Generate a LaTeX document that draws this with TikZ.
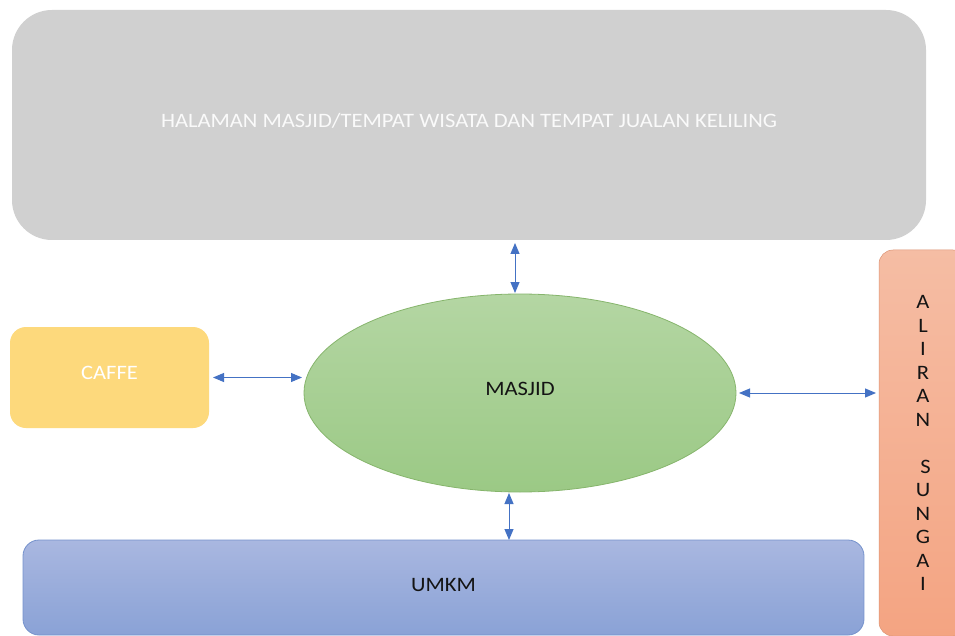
\documentclass[tikz,border=0pt]{standalone}
\usepackage{fontspec}
\setmainfont{Carlito}[FakeStretch=1.1]
\usetikzlibrary{shapes.geometric,arrows.meta}
\definecolor{grayfill}{HTML}{D0D0D0}
\definecolor{goldfill}{HTML}{FDD97C}
\definecolor{greentop}{HTML}{B4D6A3}
\definecolor{greenbot}{HTML}{9BC985}
\definecolor{greenline}{HTML}{86B56C}
\definecolor{salmontop}{HTML}{F5BDA4}
\definecolor{salmonbot}{HTML}{F4A482}
\definecolor{bluetop}{HTML}{A9B7E0}
\definecolor{bluebot}{HTML}{8AA2D6}
\definecolor{blueline}{HTML}{7592CC}
\definecolor{arrowblue}{HTML}{4472C4}
\definecolor{darktext}{HTML}{141414}
\begin{document}
\begin{tikzpicture}[x=1pt,y=-1pt,
  every node/.style={inner sep=0pt, outer sep=0pt, font=\fontsize{20.5}{23.5}\selectfont},
  topbox/.style={fill=grayfill, rounded corners=40pt, minimum width=914pt, minimum height=230pt, text=white!96!gray},
  caffebox/.style={fill=goldfill, rounded corners=16pt, minimum width=199pt, minimum height=101pt, text=white},
  masjidshape/.style={ellipse, draw=greenline, line width=0.8pt, top color=greentop, bottom color=greenbot, minimum width=432pt, minimum height=198pt, text=darktext},
  aliranbox/.style={top color=salmontop, bottom color=salmonbot, draw=salmonbot!90!black, line width=0.5pt, rounded corners=14pt, minimum width=88pt, minimum height=386pt, text=darktext, align=center},
  umkmbox/.style={top color=bluetop, bottom color=bluebot, draw=blueline, line width=0.8pt, rounded corners=16pt, minimum width=841pt, minimum height=95pt, text=darktext},
  arr/.style={draw=arrowblue, line width=1pt, {Triangle[length=11pt,width=9pt]}-{Triangle[length=11pt,width=9pt]}}
]
\useasboundingbox (0,0) rectangle (955,636);
\clip (0,0) rectangle (955,636);
\fill[white] (0,0) rectangle (955,636);

\node[topbox] (top) at (469,125) {\raisebox{10pt}{HALAMAN MASJID/TEMPAT WISATA DAN TEMPAT JUALAN KELILING}};
\node[caffebox] (caffe) at (109.5,377.5) {\raisebox{9pt}{CAFFE}};
\node[masjidshape] (masjid) at (520,393) {\raisebox{9pt}{MASJID}};
\node[aliranbox] (aliran) at (923,443) {A\\L\\I\\R\\A\\N\\[23.5pt]\hspace*{5pt}S\\U\\N\\G\\A\\I};
\node[umkmbox] (umkm) at (443.5,587.5) {\raisebox{5pt}{UMKM}};

\coordinate (tA) at (515,0);
\coordinate (bA) at (509,0);
\draw[arr, shorten <=3pt, shorten >=1pt] (top.south -| tA) -- (masjid.north -| tA);
\draw[arr, shorten <=1pt, shorten >=0pt] (masjid.south -| bA) -- (umkm.north -| bA);
\draw[arr, shorten <=4pt, shorten >=2pt] (caffe.east) -- (masjid.west |- caffe.east);
\draw[arr, shorten <=3pt, shorten >=3pt] (masjid.east) -- (aliran.west |- masjid.east);
\end{tikzpicture}
\end{document}
